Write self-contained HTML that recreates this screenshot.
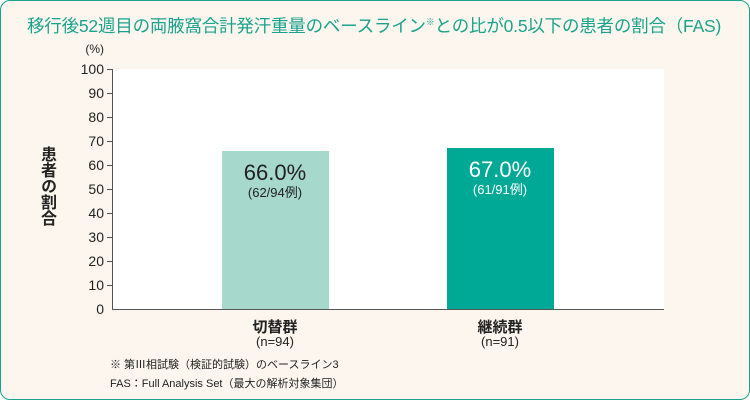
<!DOCTYPE html><html><head><meta charset="utf-8"><style>
body{margin:0;width:750px;height:400px;overflow:hidden;font-family:"Liberation Sans","Noto Sans CJK JP",sans-serif;}
.f{position:absolute;left:0;top:0;width:748px;height:398px;border:1px solid #1aa38c;border-radius:10px;background:#fdf6ee;}
.t{position:absolute;white-space:nowrap}
</style></head><body><div class="f"></div>
<div class="t" style="left:27px;top:13px;font-size:17.5px;color:#1aa38c;letter-spacing:-0.2px">移行後52週目の両腋窩合計発汗重量のベースライン<sup style="font-size:9px">※</sup>との比が0.5以下の患者の割合（FAS)</div>
<svg style="position:absolute;left:0;top:0" width="750" height="400">
<rect x="112" y="69" width="552" height="240" fill="#fff"/>
<g font-family="Liberation Sans,sans-serif" font-size="14" fill="#222" text-anchor="end">
<text x="104" y="53" font-size="12">(%)</text>
<text x="104" y="74">100</text><text x="104" y="98">90</text><text x="104" y="122">80</text><text x="104" y="146">70</text><text x="104" y="170">60</text><text x="104" y="194">50</text><text x="104" y="218">40</text><text x="104" y="242">30</text><text x="104" y="266">20</text><text x="104" y="290">10</text><text x="104" y="314">0</text>
</g>
<g stroke="#555" stroke-width="1">
<line x1="112.5" y1="69" x2="112.5" y2="309"/><line x1="112" y1="309.5" x2="664" y2="309.5"/>
<line x1="107" y1="69.5" x2="112" y2="69.5"/><line x1="107" y1="93.5" x2="112" y2="93.5"/><line x1="107" y1="117.5" x2="112" y2="117.5"/><line x1="107" y1="141.5" x2="112" y2="141.5"/><line x1="107" y1="165.5" x2="112" y2="165.5"/><line x1="107" y1="189.5" x2="112" y2="189.5"/><line x1="107" y1="213.5" x2="112" y2="213.5"/><line x1="107" y1="237.5" x2="112" y2="237.5"/><line x1="107" y1="261.5" x2="112" y2="261.5"/><line x1="107" y1="285.5" x2="112" y2="285.5"/>
</g>
<rect x="222" y="151" width="107" height="158" fill="#a6d8cb"/>
<rect x="447" y="148" width="107" height="161" fill="#00a996"/>
<text x="275" y="180" font-size="22" text-anchor="middle" fill="#222">66.0%</text>
<text x="275" y="197" font-size="13" text-anchor="middle" fill="#222" font-family="Liberation Sans,Noto Sans CJK JP,sans-serif">(62/94例)</text>
<text x="500" y="177" font-size="22" text-anchor="middle" fill="#fff">67.0%</text>
<text x="500" y="194" font-size="13" text-anchor="middle" fill="#fff" font-family="Liberation Sans,Noto Sans CJK JP,sans-serif">(61/91例)</text>
</svg>
<div class="t" style="left:38px;top:146px;width:20px;font-size:16px;font-weight:bold;color:#222;writing-mode:vertical-rl;">患者の割合</div>
<div class="t" style="left:225px;top:316px;width:100px;text-align:center;font-size:15px;font-weight:bold;color:#222">切替群</div>
<div class="t" style="left:225px;top:334px;width:100px;text-align:center;font-size:13px;color:#222">(n=94)</div>
<div class="t" style="left:450px;top:316px;width:100px;text-align:center;font-size:15px;font-weight:bold;color:#222">継続群</div>
<div class="t" style="left:450px;top:334px;width:100px;text-align:center;font-size:13px;color:#222">(n=91)</div>
<div class="t" style="left:110px;top:356px;font-size:11px;color:#222">※ 第Ⅲ相試験（検証的試験）のベースライン3</div>
<div class="t" style="left:110px;top:375px;font-size:11px;color:#222">FAS：Full Analysis Set（最大の解析対象集団）</div>
</body></html>
